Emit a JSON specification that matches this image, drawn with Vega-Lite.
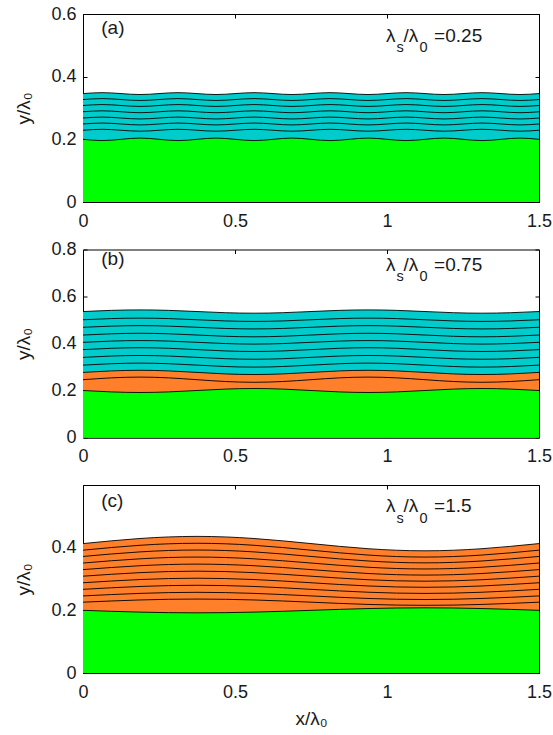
{
"$schema":"https://vega.github.io/schema/vega-lite/v6.json",
"background":"white",
"padding":{"left":14,"top":4,"right":0,"bottom":0},
"bounds":"flush",
"spacing":47.5,
"config":{
 "font":"Liberation Sans",
 "view":{"stroke":"black","strokeWidth":1},
 "axis":{"labelFont":"Liberation Sans","labelFontSize":18,"labelColor":"#1a1a1a","titleFont":"Liberation Sans","titleFontSize":19,"titleFontWeight":"normal","titleColor":"#1a1a1a","domainColor":"black","domainWidth":1,"tickColor":"black","tickSize":-4,"grid":false,"labelFlush":false,"labelOverlap":false},
 "axisX":{"labelPadding":14,"titlePadding":8},
 "axisY":{"labelPadding":11,"titlePadding":17}
},
"datasets":{
"a":[
{"x":0,"g":0.2,"l1":0.229,"l2":0.249,"l3":0.268,"l4":0.288,"l5":0.308,"l6":0.327,"t":0.346},
{"x":0.0625,"g":0.196,"l1":0.232,"l2":0.252,"l3":0.271,"l4":0.291,"l5":0.311,"l6":0.33,"t":0.349},
{"x":0.125,"g":0.2,"l1":0.229,"l2":0.249,"l3":0.268,"l4":0.288,"l5":0.308,"l6":0.327,"t":0.346},
{"x":0.1875,"g":0.204,"l1":0.226,"l2":0.246,"l3":0.265,"l4":0.285,"l5":0.305,"l6":0.324,"t":0.343},
{"x":0.25,"g":0.2,"l1":0.229,"l2":0.249,"l3":0.268,"l4":0.288,"l5":0.308,"l6":0.327,"t":0.346},
{"x":0.3125,"g":0.196,"l1":0.232,"l2":0.252,"l3":0.271,"l4":0.291,"l5":0.311,"l6":0.33,"t":0.349},
{"x":0.375,"g":0.2,"l1":0.229,"l2":0.249,"l3":0.268,"l4":0.288,"l5":0.308,"l6":0.327,"t":0.346},
{"x":0.4375,"g":0.204,"l1":0.226,"l2":0.246,"l3":0.265,"l4":0.285,"l5":0.305,"l6":0.324,"t":0.343},
{"x":0.5,"g":0.2,"l1":0.229,"l2":0.249,"l3":0.268,"l4":0.288,"l5":0.308,"l6":0.327,"t":0.346},
{"x":0.5625,"g":0.196,"l1":0.232,"l2":0.252,"l3":0.271,"l4":0.291,"l5":0.311,"l6":0.33,"t":0.349},
{"x":0.625,"g":0.2,"l1":0.229,"l2":0.249,"l3":0.268,"l4":0.288,"l5":0.308,"l6":0.327,"t":0.346},
{"x":0.6875,"g":0.204,"l1":0.226,"l2":0.246,"l3":0.265,"l4":0.285,"l5":0.305,"l6":0.324,"t":0.343},
{"x":0.75,"g":0.2,"l1":0.229,"l2":0.249,"l3":0.268,"l4":0.288,"l5":0.308,"l6":0.327,"t":0.346},
{"x":0.8125,"g":0.196,"l1":0.232,"l2":0.252,"l3":0.271,"l4":0.291,"l5":0.311,"l6":0.33,"t":0.349},
{"x":0.875,"g":0.2,"l1":0.229,"l2":0.249,"l3":0.268,"l4":0.288,"l5":0.308,"l6":0.327,"t":0.346},
{"x":0.9375,"g":0.204,"l1":0.226,"l2":0.246,"l3":0.265,"l4":0.285,"l5":0.305,"l6":0.324,"t":0.343},
{"x":1,"g":0.2,"l1":0.229,"l2":0.249,"l3":0.268,"l4":0.288,"l5":0.308,"l6":0.327,"t":0.346},
{"x":1.0625,"g":0.196,"l1":0.232,"l2":0.252,"l3":0.271,"l4":0.291,"l5":0.311,"l6":0.33,"t":0.349},
{"x":1.125,"g":0.2,"l1":0.229,"l2":0.249,"l3":0.268,"l4":0.288,"l5":0.308,"l6":0.327,"t":0.346},
{"x":1.1875,"g":0.204,"l1":0.226,"l2":0.246,"l3":0.265,"l4":0.285,"l5":0.305,"l6":0.324,"t":0.343},
{"x":1.25,"g":0.2,"l1":0.229,"l2":0.249,"l3":0.268,"l4":0.288,"l5":0.308,"l6":0.327,"t":0.346},
{"x":1.3125,"g":0.196,"l1":0.232,"l2":0.252,"l3":0.271,"l4":0.291,"l5":0.311,"l6":0.33,"t":0.349},
{"x":1.375,"g":0.2,"l1":0.229,"l2":0.249,"l3":0.268,"l4":0.288,"l5":0.308,"l6":0.327,"t":0.346},
{"x":1.4375,"g":0.204,"l1":0.226,"l2":0.246,"l3":0.265,"l4":0.285,"l5":0.305,"l6":0.324,"t":0.343},
{"x":1.5,"g":0.2,"l1":0.229,"l2":0.249,"l3":0.268,"l4":0.288,"l5":0.308,"l6":0.327,"t":0.346}
],
"b":[
{"x":0,"g":0.2,"m":0.246,"o":0.277,"l1":0.308,"l2":0.341,"l3":0.374,"l4":0.405,"l5":0.436,"l6":0.469,"l7":0.501,"t":0.536},
{"x":0.09375,"g":0.194,"m":0.2538,"o":0.2834,"l1":0.314,"l2":0.3467,"l3":0.3797,"l4":0.4103,"l5":0.4413,"l6":0.474,"l7":0.506,"t":0.541},
{"x":0.1875,"g":0.1915,"m":0.257,"o":0.286,"l1":0.3165,"l2":0.349,"l3":0.382,"l4":0.4125,"l5":0.4435,"l6":0.476,"l7":0.508,"t":0.543},
{"x":0.28125,"g":0.194,"m":0.2538,"o":0.2834,"l1":0.314,"l2":0.3467,"l3":0.3797,"l4":0.4103,"l5":0.4413,"l6":0.474,"l7":0.506,"t":0.541},
{"x":0.375,"g":0.2,"m":0.246,"o":0.277,"l1":0.308,"l2":0.341,"l3":0.374,"l4":0.405,"l5":0.436,"l6":0.469,"l7":0.501,"t":0.536},
{"x":0.46875,"g":0.206,"m":0.2382,"o":0.2706,"l1":0.302,"l2":0.3353,"l3":0.3683,"l4":0.3997,"l5":0.4307,"l6":0.464,"l7":0.496,"t":0.531},
{"x":0.5625,"g":0.2085,"m":0.235,"o":0.268,"l1":0.2995,"l2":0.333,"l3":0.366,"l4":0.3975,"l5":0.4285,"l6":0.462,"l7":0.494,"t":0.529},
{"x":0.65625,"g":0.206,"m":0.2382,"o":0.2706,"l1":0.302,"l2":0.3353,"l3":0.3683,"l4":0.3997,"l5":0.4307,"l6":0.464,"l7":0.496,"t":0.531},
{"x":0.75,"g":0.2,"m":0.246,"o":0.277,"l1":0.308,"l2":0.341,"l3":0.374,"l4":0.405,"l5":0.436,"l6":0.469,"l7":0.501,"t":0.536},
{"x":0.84375,"g":0.194,"m":0.2538,"o":0.2834,"l1":0.314,"l2":0.3467,"l3":0.3797,"l4":0.4103,"l5":0.4413,"l6":0.474,"l7":0.506,"t":0.541},
{"x":0.9375,"g":0.1915,"m":0.257,"o":0.286,"l1":0.3165,"l2":0.349,"l3":0.382,"l4":0.4125,"l5":0.4435,"l6":0.476,"l7":0.508,"t":0.543},
{"x":1.03125,"g":0.194,"m":0.2538,"o":0.2834,"l1":0.314,"l2":0.3467,"l3":0.3797,"l4":0.4103,"l5":0.4413,"l6":0.474,"l7":0.506,"t":0.541},
{"x":1.125,"g":0.2,"m":0.246,"o":0.277,"l1":0.308,"l2":0.341,"l3":0.374,"l4":0.405,"l5":0.436,"l6":0.469,"l7":0.501,"t":0.536},
{"x":1.21875,"g":0.206,"m":0.2382,"o":0.2706,"l1":0.302,"l2":0.3353,"l3":0.3683,"l4":0.3997,"l5":0.4307,"l6":0.464,"l7":0.496,"t":0.531},
{"x":1.3125,"g":0.2085,"m":0.235,"o":0.268,"l1":0.2995,"l2":0.333,"l3":0.366,"l4":0.3975,"l5":0.4285,"l6":0.462,"l7":0.494,"t":0.529},
{"x":1.40625,"g":0.206,"m":0.2382,"o":0.2706,"l1":0.302,"l2":0.3353,"l3":0.3683,"l4":0.3997,"l5":0.4307,"l6":0.464,"l7":0.496,"t":0.531},
{"x":1.5,"g":0.2,"m":0.246,"o":0.277,"l1":0.308,"l2":0.341,"l3":0.374,"l4":0.405,"l5":0.436,"l6":0.469,"l7":0.501,"t":0.536}
],
"c":[
{"x":0,"g":0.2,"l1":0.226,"l2":0.246,"l3":0.267,"l4":0.288,"l5":0.309,"l6":0.33,"l7":0.351,"l8":0.372,"l9":0.392,"t":0.413},
{"x":0.1875,"g":0.1943,"l1":0.2331,"l2":0.2541,"l3":0.2762,"l4":0.2983,"l5":0.3203,"l6":0.3424,"l7":0.3644,"l8":0.3865,"l9":0.4076,"t":0.4293},
{"x":0.375,"g":0.192,"l1":0.236,"l2":0.2575,"l3":0.28,"l4":0.3025,"l5":0.325,"l6":0.3475,"l7":0.37,"l8":0.3925,"l9":0.414,"t":0.436},
{"x":0.5625,"g":0.1943,"l1":0.2331,"l2":0.2541,"l3":0.2762,"l4":0.2983,"l5":0.3203,"l6":0.3424,"l7":0.3644,"l8":0.3865,"l9":0.4076,"t":0.4293},
{"x":0.75,"g":0.2,"l1":0.226,"l2":0.246,"l3":0.267,"l4":0.288,"l5":0.309,"l6":0.33,"l7":0.351,"l8":0.372,"l9":0.392,"t":0.413},
{"x":0.9375,"g":0.2057,"l1":0.2189,"l2":0.2379,"l3":0.2578,"l4":0.2778,"l5":0.2977,"l6":0.3176,"l7":0.3376,"l8":0.3575,"l9":0.3764,"t":0.3967},
{"x":1.125,"g":0.208,"l1":0.216,"l2":0.2345,"l3":0.254,"l4":0.2735,"l5":0.293,"l6":0.3125,"l7":0.332,"l8":0.3515,"l9":0.37,"t":0.39},
{"x":1.3125,"g":0.2057,"l1":0.2189,"l2":0.2379,"l3":0.2578,"l4":0.2778,"l5":0.2977,"l6":0.3176,"l7":0.3376,"l8":0.3575,"l9":0.3764,"t":0.3967},
{"x":1.5,"g":0.2,"l1":0.226,"l2":0.246,"l3":0.267,"l4":0.288,"l5":0.309,"l6":0.33,"l7":0.351,"l8":0.372,"l9":0.392,"t":0.413}
],
"labels":[
{"p":"a","z":"b","x":0.06,"y":0.536,"s":"(a)"},
{"p":"a","z":"b","x":0.997,"y":0.51,"s":"λ"},
{"p":"a","z":"s","x":1.031,"y":0.478,"s":"s"},
{"p":"a","z":"b","x":1.054,"y":0.51,"s":"/λ"},
{"p":"a","z":"s","x":1.107,"y":0.478,"s":"0"},
{"p":"a","z":"b","x":1.155,"y":0.51,"s":"=0.25"},
{"p":"b","z":"b","x":0.06,"y":0.732,"s":"(b)"},
{"p":"b","z":"b","x":0.997,"y":0.71,"s":"λ"},
{"p":"b","z":"s","x":1.031,"y":0.664,"s":"s"},
{"p":"b","z":"b","x":1.054,"y":0.71,"s":"/λ"},
{"p":"b","z":"s","x":1.107,"y":0.664,"s":"0"},
{"p":"b","z":"b","x":1.155,"y":0.71,"s":"=0.75"},
{"p":"c","z":"b","x":0.06,"y":0.53,"s":"(c)"},
{"p":"c","z":"b","x":0.997,"y":0.514,"s":"λ"},
{"p":"c","z":"s","x":1.031,"y":0.479,"s":"s"},
{"p":"c","z":"b","x":1.054,"y":0.514,"s":"/λ"},
{"p":"c","z":"s","x":1.107,"y":0.479,"s":"0"},
{"p":"c","z":"b","x":1.155,"y":0.514,"s":"=1.5"}
]
},
"vconcat":[
{
 "width":456,"height":188,
 "resolve":{"axis":{"x":"independent","y":"independent"}},
 "layer":[
  {"data":{"name":"a"},"transform":[{"fold":["t"],"as":["k","y"]}],
   "mark":{"type":"area","color":"#00cccc","interpolate":"natural"},
   "encoding":{
    "x":{"field":"x","type":"quantitative","scale":{"domain":[0,1.5],"nice":false},"axis":{"values":[0,0.5,1,1.5],"format":"~g","title":null}},
    "y":{"field":"y","type":"quantitative","stack":null,"scale":{"domain":[0,0.6],"nice":false},"axis":{"values":[0,0.2,0.4,0.6],"format":"~g","title":"y/λ₀"}}}},
  {"data":{"name":"a"},"transform":[{"fold":["g"],"as":["k","y"]}],
   "mark":{"type":"area","color":"#00ff00","interpolate":"natural"},
   "encoding":{
    "x":{"field":"x","type":"quantitative","scale":{"domain":[0,1.5],"nice":false},"axis":null},
    "y":{"field":"y","type":"quantitative","stack":null,"scale":{"domain":[0,0.6],"nice":false},"axis":null}}},
  {"data":{"name":"a"},"transform":[{"fold":["g","l1","l2","l3","l4","l5","l6","t"],"as":["k","y"]}],
   "mark":{"type":"line","color":"black","strokeWidth":0.9,"interpolate":"natural"},
   "encoding":{
    "x":{"field":"x","type":"quantitative","scale":{"domain":[0,1.5],"nice":false},"axis":{"orient":"top","labels":false,"domain":false,"title":null,"values":[0,0.5,1,1.5]}},
    "y":{"field":"y","type":"quantitative","scale":{"domain":[0,0.6],"nice":false},"axis":{"orient":"right","labels":false,"domain":false,"title":null,"values":[0,0.2,0.4,0.6]}},
    "detail":{"field":"k"}}},
  {"data":{"name":"labels"},"transform":[{"filter":"datum.p=='a' && datum.z=='b'"}],
   "mark":{"type":"text","align":"left","baseline":"alphabetic","fontSize":19,"font":"Liberation Sans","color":"#1a1a1a"},
   "encoding":{
    "x":{"field":"x","type":"quantitative","scale":{"domain":[0,1.5],"nice":false},"axis":null},
    "y":{"field":"y","type":"quantitative","scale":{"domain":[0,0.6],"nice":false},"axis":null},
    "text":{"field":"s"}}},
  {"data":{"name":"labels"},"transform":[{"filter":"datum.p=='a' && datum.z=='s'"}],
   "mark":{"type":"text","align":"left","baseline":"alphabetic","fontSize":14.5,"font":"Liberation Sans","color":"#1a1a1a"},
   "encoding":{
    "x":{"field":"x","type":"quantitative","scale":{"domain":[0,1.5],"nice":false},"axis":null},
    "y":{"field":"y","type":"quantitative","scale":{"domain":[0,0.6],"nice":false},"axis":null},
    "text":{"field":"s"}}}
 ]
},
{
 "width":456,"height":188,
 "resolve":{"axis":{"x":"independent","y":"independent"}},
 "layer":[
  {"data":{"name":"b"},"transform":[{"fold":["t"],"as":["k","y"]}],
   "mark":{"type":"area","color":"#00cccc","interpolate":"natural"},
   "encoding":{
    "x":{"field":"x","type":"quantitative","scale":{"domain":[0,1.5],"nice":false},"axis":{"values":[0,0.5,1,1.5],"format":"~g","title":null}},
    "y":{"field":"y","type":"quantitative","stack":null,"scale":{"domain":[0,0.8],"nice":false},"axis":{"values":[0,0.2,0.4,0.6,0.8],"format":"~g","title":"y/λ₀"}}}},
  {"data":{"name":"b"},"transform":[{"fold":["o"],"as":["k","y"]}],
   "mark":{"type":"area","color":"#ff7f2a","interpolate":"natural"},
   "encoding":{
    "x":{"field":"x","type":"quantitative","scale":{"domain":[0,1.5],"nice":false},"axis":null},
    "y":{"field":"y","type":"quantitative","stack":null,"scale":{"domain":[0,0.8],"nice":false},"axis":null}}},
  {"data":{"name":"b"},"transform":[{"fold":["g"],"as":["k","y"]}],
   "mark":{"type":"area","color":"#00ff00","interpolate":"natural"},
   "encoding":{
    "x":{"field":"x","type":"quantitative","scale":{"domain":[0,1.5],"nice":false},"axis":null},
    "y":{"field":"y","type":"quantitative","stack":null,"scale":{"domain":[0,0.8],"nice":false},"axis":null}}},
  {"data":{"name":"b"},"transform":[{"fold":["g","m","o","l1","l2","l3","l4","l5","l6","l7","t"],"as":["k","y"]}],
   "mark":{"type":"line","color":"black","strokeWidth":0.9,"interpolate":"natural"},
   "encoding":{
    "x":{"field":"x","type":"quantitative","scale":{"domain":[0,1.5],"nice":false},"axis":{"orient":"top","labels":false,"domain":false,"title":null,"values":[0,0.5,1,1.5]}},
    "y":{"field":"y","type":"quantitative","scale":{"domain":[0,0.8],"nice":false},"axis":{"orient":"right","labels":false,"domain":false,"title":null,"values":[0,0.2,0.4,0.6,0.8]}},
    "detail":{"field":"k"}}},
  {"data":{"name":"labels"},"transform":[{"filter":"datum.p=='b' && datum.z=='b'"}],
   "mark":{"type":"text","align":"left","baseline":"alphabetic","fontSize":19,"font":"Liberation Sans","color":"#1a1a1a"},
   "encoding":{
    "x":{"field":"x","type":"quantitative","scale":{"domain":[0,1.5],"nice":false},"axis":null},
    "y":{"field":"y","type":"quantitative","scale":{"domain":[0,0.8],"nice":false},"axis":null},
    "text":{"field":"s"}}},
  {"data":{"name":"labels"},"transform":[{"filter":"datum.p=='b' && datum.z=='s'"}],
   "mark":{"type":"text","align":"left","baseline":"alphabetic","fontSize":14.5,"font":"Liberation Sans","color":"#1a1a1a"},
   "encoding":{
    "x":{"field":"x","type":"quantitative","scale":{"domain":[0,1.5],"nice":false},"axis":null},
    "y":{"field":"y","type":"quantitative","scale":{"domain":[0,0.8],"nice":false},"axis":null},
    "text":{"field":"s"}}}
 ]
},
{
 "width":456,"height":188,
 "resolve":{"axis":{"x":"independent","y":"independent"}},
 "layer":[
  {"data":{"name":"c"},"transform":[{"fold":["t"],"as":["k","y"]}],
   "mark":{"type":"area","color":"#ff7f2a","interpolate":"natural"},
   "encoding":{
    "x":{"field":"x","type":"quantitative","scale":{"domain":[0,1.5],"nice":false},"axis":{"values":[0,0.5,1,1.5],"format":"~g","title":"x/λ₀"}},
    "y":{"field":"y","type":"quantitative","stack":null,"scale":{"domain":[0,0.6],"nice":false},"axis":{"values":[0,0.2,0.4],"format":"~g","title":"y/λ₀"}}}},
  {"data":{"name":"c"},"transform":[{"fold":["g"],"as":["k","y"]}],
   "mark":{"type":"area","color":"#00ff00","interpolate":"natural"},
   "encoding":{
    "x":{"field":"x","type":"quantitative","scale":{"domain":[0,1.5],"nice":false},"axis":null},
    "y":{"field":"y","type":"quantitative","stack":null,"scale":{"domain":[0,0.6],"nice":false},"axis":null}}},
  {"data":{"name":"c"},"transform":[{"fold":["g","l1","l2","l3","l4","l5","l6","l7","l8","l9","t"],"as":["k","y"]}],
   "mark":{"type":"line","color":"black","strokeWidth":0.9,"interpolate":"natural"},
   "encoding":{
    "x":{"field":"x","type":"quantitative","scale":{"domain":[0,1.5],"nice":false},"axis":{"orient":"top","labels":false,"domain":false,"title":null,"values":[0,0.5,1,1.5]}},
    "y":{"field":"y","type":"quantitative","scale":{"domain":[0,0.6],"nice":false},"axis":{"orient":"right","labels":false,"domain":false,"title":null,"values":[0,0.2,0.4]}},
    "detail":{"field":"k"}}},
  {"data":{"name":"labels"},"transform":[{"filter":"datum.p=='c' && datum.z=='b'"}],
   "mark":{"type":"text","align":"left","baseline":"alphabetic","fontSize":19,"font":"Liberation Sans","color":"#1a1a1a"},
   "encoding":{
    "x":{"field":"x","type":"quantitative","scale":{"domain":[0,1.5],"nice":false},"axis":null},
    "y":{"field":"y","type":"quantitative","scale":{"domain":[0,0.6],"nice":false},"axis":null},
    "text":{"field":"s"}}},
  {"data":{"name":"labels"},"transform":[{"filter":"datum.p=='c' && datum.z=='s'"}],
   "mark":{"type":"text","align":"left","baseline":"alphabetic","fontSize":14.5,"font":"Liberation Sans","color":"#1a1a1a"},
   "encoding":{
    "x":{"field":"x","type":"quantitative","scale":{"domain":[0,1.5],"nice":false},"axis":null},
    "y":{"field":"y","type":"quantitative","scale":{"domain":[0,0.6],"nice":false},"axis":null},
    "text":{"field":"s"}}}
 ]
}
]
}
